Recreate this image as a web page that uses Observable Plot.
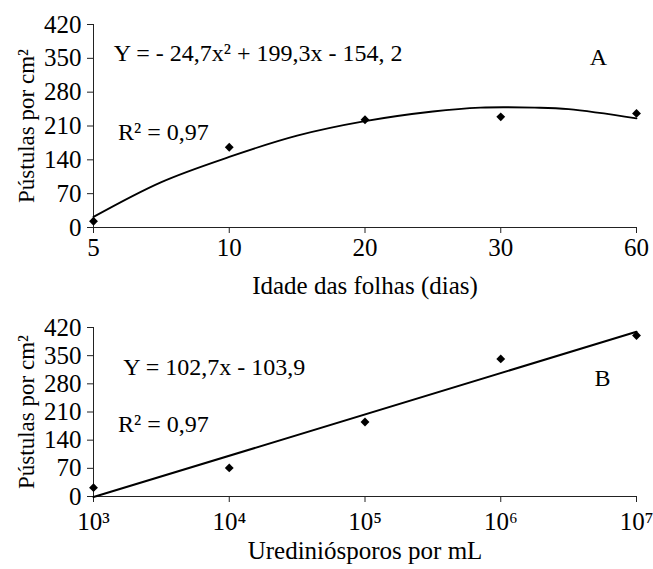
<!DOCTYPE html>
<html>
<head>
<meta charset="utf-8">
<script src="https://cdn.jsdelivr.net/npm/d3@7"></script>
<script src="https://cdn.jsdelivr.net/npm/@observablehq/plot@0.6"></script>
<style>
  body { margin: 0; background: #fff; }
  #chart svg { display: block; }
</style>
</head>
<body>
<div id="chart"></div>
<script>
// Panel A: leaf age
const ageLabels = ["5", "10", "20", "30", "60"];
const ageIdx = [1, 2, 3, 4, 5];
const pustA = [13, 166, 223, 229, 236];
// fitted curve
const curveIdx = [1, 1.5, 2, 2.5, 3, 3.5, 3.85, 4.25, 4.5, 5];
const curveA = [22, 94, 146, 190, 220, 240, 248, 248, 245, 226];

// Panel B: inoculum concentration
const concLabels = ["10³", "10⁴", "10⁵", "10⁶", "10⁷"];
const concIdx = [1, 2, 3, 4, 5];
const pustB = [22, 71, 185, 342, 400];

const yTicks = [0, 70, 140, 210, 280, 350, 420];

const dataA = ageIdx.map((x, i) => ({x, y: pustA[i]}));
const curveData = curveIdx.map((x, i) => ({x, y: curveA[i]}));
const dataB = concIdx.map((x, i) => ({x, y: pustB[i]}));

const font = "Liberation Serif, Times New Roman, serif";
const fsTick = 25;   // tick labels and axis titles
const fsNote = 24;   // equations inside plot
const fsY = 23;      // y axis title
const yLabel = "Pústulas por cm²";

const plotA = Plot.plot({
  width: 653, height: 305,
  marginLeft: 93, marginRight: 17, marginTop: 24, marginBottom: 78,
  style: {fontFamily: font, fontSize: fsTick + "px", color: "#000", background: "#fff", overflow: "visible"},
  x: {domain: [1, 5]},
  y: {domain: [0, 420]},
  marks: [
    Plot.axisX({ticks: ageIdx, tickFormat: i => ageLabels[i - 1], tickSize: 6, tickPadding: 5, label: null, fontSize: fsTick, stroke: "#222"}),
    Plot.axisY({ticks: yTicks, tickSize: 6, tickPadding: 6, label: null, fontSize: fsTick, stroke: "#222"}),
    Plot.ruleY([0], {stroke: "#222"}),
    Plot.ruleX([1], {stroke: "#222"}),
    Plot.line(curveData, {x: "x", y: "y", stroke: "#000", strokeWidth: 1.8, curve: "catmull-rom"}),
    Plot.dot(dataA, {x: "x", y: "y", symbol: "diamond2", r: 4, fill: "#000", stroke: "none"}),
    Plot.text(["Y = - 24,7x² + 199,3x - 154, 2"], {x: 1.15, y: 360, textAnchor: "start", fontSize: fsNote, fill: "#000"}),
    Plot.text(["R² = 0,97"], {x: 1.18, y: 196, textAnchor: "start", fontSize: fsNote, fill: "#000"}),
    Plot.text(["A"], {x: 4.72, y: 352, fontSize: fsNote, fill: "#000"}),
    Plot.text(["Idade das folhas (dias)"], {frameAnchor: "bottom", dy: 66, fontSize: fsTick, fill: "#000"}),
    Plot.text([yLabel], {frameAnchor: "left", dx: -67, rotate: -90, textAnchor: "middle", fontSize: fsY, fill: "#000"})
  ]
});

const plotB = Plot.plot({
  width: 653, height: 264,
  marginLeft: 93, marginRight: 17, marginTop: 22, marginBottom: 73,
  style: {fontFamily: font, fontSize: fsTick + "px", color: "#000", background: "#fff", overflow: "visible"},
  x: {domain: [1, 5]},
  y: {domain: [0, 420]},
  marks: [
    Plot.axisX({ticks: concIdx, tickFormat: i => concLabels[i - 1], tickSize: 6, tickPadding: 10, label: null, fontSize: fsTick, stroke: "#222"}),
    Plot.axisY({ticks: yTicks, tickSize: 6, tickPadding: 6, label: null, fontSize: fsTick, stroke: "#222"}),
    Plot.ruleY([0], {stroke: "#222"}),
    Plot.ruleX([1], {stroke: "#222"}),
    Plot.linearRegressionY(dataB, {x: "x", y: "y", ci: 0, stroke: "#000", strokeWidth: 2}),
    Plot.dot(dataB, {x: "x", y: "y", symbol: "diamond2", r: 4, fill: "#000", stroke: "none"}),
    Plot.text(["Y = 102,7x - 103,9"], {x: 1.22, y: 321, textAnchor: "start", fontSize: fsNote, fill: "#000"}),
    Plot.text(["R² = 0,97"], {x: 1.18, y: 179, textAnchor: "start", fontSize: fsNote, fill: "#000"}),
    Plot.text(["B"], {x: 4.75, y: 294, fontSize: fsNote, fill: "#000"}),
    Plot.text(["Urediniósporos por mL"], {frameAnchor: "bottom", dy: 62, fontSize: fsTick, fill: "#000"}),
    Plot.text([yLabel], {frameAnchor: "left", dx: -67, rotate: -90, textAnchor: "middle", fontSize: fsY, fill: "#000"})
  ]
});

const el = document.getElementById("chart");
el.append(plotA, plotB);
</script>
</body>
</html>
